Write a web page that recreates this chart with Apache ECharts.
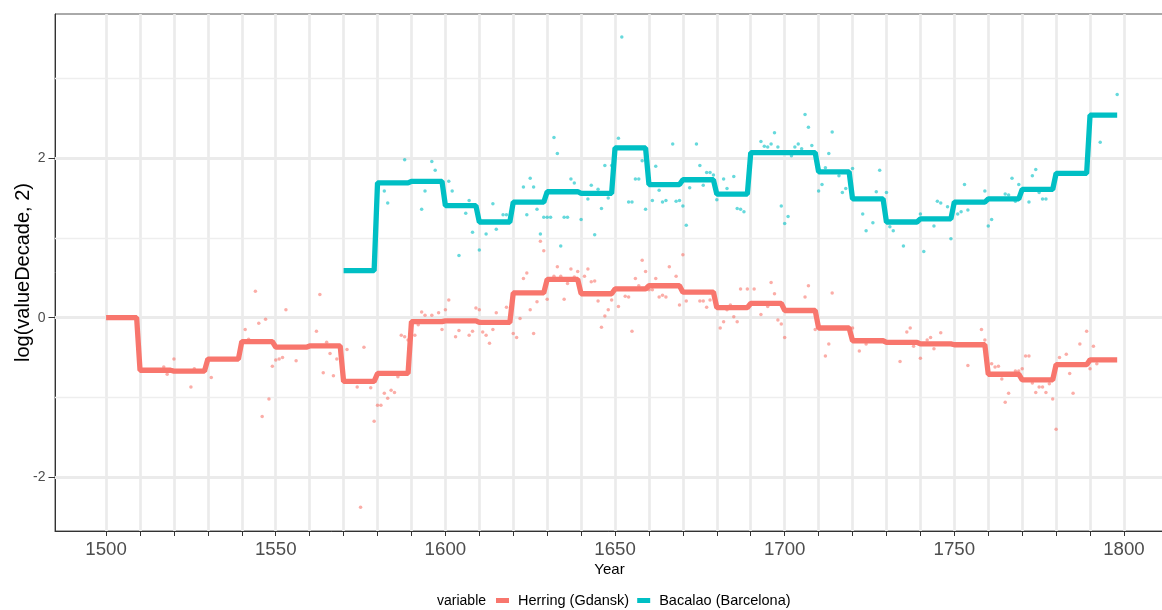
<!DOCTYPE html>
<html>
<head>
<meta charset="utf-8">
<title>log(valueDecade, 2) by Year</title>
<script src="https://cdn.jsdelivr.net/npm/echarts@6/dist/echarts.min.js"></script>
<style>
  html, body { margin: 0; padding: 0; background: #fff; }
  #chart { width: 1162px; height: 610px; }
</style>
</head>
<body>
<div id="chart"></div>
<script>
// decade step values (log2)
const herringDecades = [1500, 1510, 1520, 1530, 1540, 1550, 1560, 1570, 1580, 1590,
  1600, 1610, 1620, 1630, 1640, 1650, 1660, 1670, 1680, 1690,
  1700, 1710, 1720, 1730, 1740, 1750, 1760, 1770, 1780, 1790];
const herringDecadeVals = [0.00, -0.66, -0.67, -0.52, -0.30, -0.37, -0.355, -0.80, -0.70, -0.05,
  -0.04, -0.06, 0.31, 0.48, 0.30, 0.36, 0.40, 0.32, 0.125, 0.18,
  0.09, -0.13, -0.29, -0.31, -0.33, -0.34, -0.71, -0.78, -0.59, -0.53];

const bacalaoDecades = [1570, 1580, 1590,
  1600, 1610, 1620, 1630, 1640, 1650, 1660, 1670, 1680, 1690,
  1700, 1710, 1720, 1730, 1740, 1750, 1760, 1770, 1780, 1790];
const bacalaoDecadeVals = [0.59, 1.69, 1.71,
  1.405, 1.20, 1.45, 1.58, 1.56, 2.13, 1.67, 1.73, 1.55, 2.07,
  2.07, 1.83, 1.49, 1.20, 1.24, 1.45, 1.49, 1.61, 1.81, 2.54];

const lastYear = 1798;

// yearly observations [year, log2 value]
const herringPoints = [
  [1517, -0.62], [1518, -0.71], [1520, -0.52], [1525, -0.87], [1526, -0.64], [1531, -0.75],
  [1541, -0.15], [1542, -0.27], [1544, 0.33], [1545, -0.07], [1546, -1.24], [1547, -0.02],
  [1548, -1.02], [1549, -0.61], [1550, -0.53], [1551, -0.52], [1552, -0.50], [1553, 0.10],
  [1556, -0.54], [1562, -0.17], [1563, 0.29], [1564, -0.69], [1565, -0.31], [1566, -0.45],
  [1567, -0.73], [1568, -0.52], [1571, -0.40], [1574, -0.87], [1575, -2.38], [1576, -0.37],
  [1578, -0.88], [1579, -1.30], [1580, -1.10], [1581, -1.10], [1582, -0.95], [1583, -1.01],
  [1584, -0.91], [1585, -0.94], [1586, -0.74], [1587, -0.22], [1588, -0.24], [1589, -0.28],
  [1591, -0.22], [1592, -0.09], [1593, 0.07], [1594, 0.03], [1596, 0.03], [1598, 0.06],
  [1599, -0.15], [1600, 0.10], [1601, 0.22], [1603, -0.24], [1604, -0.16], [1607, -0.22],
  [1608, -0.17], [1609, 0.12], [1610, 0.10], [1611, -0.18], [1612, -0.22], [1613, -0.32],
  [1614, -0.15], [1615, 0.06], [1618, 0.13], [1620, -0.20], [1621, -0.25], [1622, -0.01],
  [1623, 0.49], [1624, 0.56], [1625, 0.10], [1626, -0.20], [1627, 0.20], [1628, 0.96],
  [1629, 0.84], [1630, 0.23], [1632, 0.52], [1633, 0.64], [1634, 0.52], [1635, 0.23],
  [1636, 0.43], [1637, 0.61], [1638, 0.51], [1639, 0.58], [1641, 0.52], [1642, 0.61],
  [1643, 0.45], [1644, 0.46], [1645, 0.21], [1646, -0.12], [1647, 0.02], [1648, 0.10],
  [1649, 0.22], [1651, 0.14], [1653, 0.27], [1654, 0.26], [1655, -0.17], [1656, 0.49],
  [1657, 0.40], [1658, 0.72], [1659, 0.58], [1660, 0.35], [1661, 0.35], [1662, 0.49],
  [1663, 0.26], [1664, 0.28], [1665, 0.26], [1666, 0.64], [1668, 0.52], [1669, 0.16],
  [1670, 0.79], [1671, 0.21], [1675, 0.21], [1676, 0.21], [1677, 0.13], [1678, 0.22],
  [1681, -0.13], [1682, -0.05], [1683, 0.10], [1684, 0.16], [1685, 0.01], [1686, -0.05],
  [1687, 0.36], [1689, 0.36], [1691, 0.36], [1693, 0.04], [1695, 0.14], [1696, 0.44],
  [1697, 0.30], [1698, -0.03], [1699, -0.08], [1700, -0.25], [1706, 0.26], [1707, 0.40],
  [1709, -0.15], [1712, -0.48], [1713, -0.33], [1714, 0.31], [1720, -0.13], [1722, -0.42],
  [1724, -0.33], [1734, -0.55], [1736, -0.18], [1737, -0.13], [1738, -0.36], [1740, -0.51],
  [1742, -0.28], [1743, -0.25], [1744, -0.39], [1746, -0.19], [1754, -0.60], [1758, -0.15],
  [1759, -0.28], [1761, -0.58], [1762, -0.62], [1763, -0.61], [1764, -0.77], [1765, -1.06],
  [1766, -0.95], [1768, -0.67], [1769, -0.67], [1770, -0.64], [1771, -0.48], [1772, -0.48],
  [1773, -0.82], [1774, -0.94], [1775, -0.87], [1776, -0.87], [1777, -0.94], [1778, -0.83],
  [1779, -1.02], [1780, -1.40], [1781, -0.50], [1783, -0.46], [1784, -0.70], [1785, -0.95],
  [1787, -0.33], [1789, -0.17], [1790, -0.64], [1791, -0.36], [1792, -0.58]
];

const bacalaoPoints = [
  [1582, 1.59], [1583, 1.44], [1588, 1.98], [1593, 1.36], [1594, 1.59], [1596, 1.96],
  [1597, 1.85], [1601, 1.71], [1602, 1.59], [1604, 0.78], [1606, 1.31], [1607, 1.47],
  [1608, 1.07], [1610, 0.85], [1612, 1.05], [1614, 1.43], [1615, 1.11], [1617, 1.29],
  [1618, 1.29], [1623, 1.64], [1624, 1.29], [1625, 1.75], [1626, 1.64], [1627, 1.36],
  [1628, 1.05], [1629, 1.26], [1630, 1.26], [1631, 1.26], [1632, 2.26], [1633, 2.06],
  [1634, 0.90], [1635, 1.26], [1636, 1.26], [1637, 1.74], [1638, 1.69], [1640, 1.23],
  [1642, 1.49], [1643, 1.66], [1644, 1.04], [1645, 1.61], [1646, 1.37], [1647, 1.91],
  [1648, 1.50], [1649, 1.91], [1651, 2.25], [1652, 3.52], [1654, 1.45], [1655, 1.45],
  [1656, 1.74], [1657, 1.74], [1658, 1.97], [1659, 1.36], [1661, 1.47], [1662, 1.90],
  [1663, 1.60], [1664, 1.45], [1665, 1.47], [1667, 2.18], [1668, 1.46], [1669, 1.47],
  [1670, 1.40], [1671, 1.16], [1672, 1.63], [1674, 2.18], [1675, 1.91], [1676, 1.66],
  [1677, 1.82], [1678, 1.82], [1679, 1.79], [1680, 1.48], [1682, 1.74], [1683, 1.62],
  [1685, 1.77], [1686, 1.37], [1687, 1.36], [1688, 1.33], [1693, 2.21], [1694, 2.15],
  [1695, 2.14], [1696, 2.18], [1697, 2.32], [1698, 2.14], [1699, 1.40], [1700, 1.18],
  [1701, 1.27], [1702, 2.03], [1703, 2.14], [1704, 2.18], [1705, 2.12], [1706, 2.55],
  [1707, 2.39], [1708, 2.16], [1710, 1.59], [1711, 1.67], [1712, 1.88], [1713, 2.06],
  [1714, 2.33], [1716, 1.78], [1717, 1.57], [1718, 1.62], [1720, 1.87], [1723, 1.30],
  [1724, 1.09], [1726, 1.19], [1727, 1.58], [1728, 1.85], [1730, 1.57], [1731, 1.14],
  [1732, 1.09], [1735, 0.90], [1740, 1.30], [1741, 0.83], [1744, 1.15], [1745, 1.46],
  [1746, 1.44], [1748, 1.39], [1749, 0.99], [1751, 1.30], [1752, 1.33], [1753, 1.67],
  [1754, 1.35], [1759, 1.59], [1760, 1.15], [1761, 1.23], [1765, 1.55], [1766, 1.54],
  [1767, 1.75], [1768, 1.46], [1769, 1.67], [1772, 1.45], [1773, 1.78], [1774, 1.86],
  [1775, 1.57], [1776, 1.49], [1777, 1.49], [1793, 2.20], [1798, 2.80]
];

// axis breaks
const xTickYears = [1500, 1510, 1520, 1530, 1540, 1550, 1560, 1570, 1580, 1590, 1600,
  1610, 1620, 1630, 1640, 1650, 1660, 1670, 1680, 1690, 1700,
  1710, 1720, 1730, 1740, 1750, 1760, 1770, 1780, 1790, 1800];
const xLabelYears = [1500, 1550, 1600, 1650, 1700, 1750, 1800];
const yMajor = [-2, 0, 2];
const yMinor = [-1, 1, 3];

const seriesNames = ["Herring (Gdansk)", "Bacalao (Barcelona)"];
const colors = ["#F8766D", "#00BFC4"];
const fontFamily = "'Liberation Sans', Arial, sans-serif";

function stepLine(decades, vals, endYear) {
  let out = [];
  for (let i = 0; i < decades.length; i++) {
    out.push([decades[i], vals[i]]);
    out.push([Math.min(decades[i] + 9, endYear), vals[i]]);
  }
  return out;
}

/** gridlines as markLines, so they can start at 1500 */
function gridLines() {
  let data = [];
  xTickYears.forEach(function(v) {
    data.push({ xAxis: v, lineStyle: { color: "#EBEBEB", width: 2.7, type: "solid" } });
  });
  yMajor.forEach(function(v) {
    data.push({ yAxis: v, lineStyle: { color: "#EBEBEB", width: 2.8, type: "solid" } });
  });
  yMinor.forEach(function(v) {
    data.push({ yAxis: v, lineStyle: { color: "#EEEEEE", width: 1.3, type: "solid" } });
  });
  return data;
}

var myChart = echarts.init(document.getElementById("chart"), null, { renderer: "canvas" });

let option = {
  animation: false,
  backgroundColor: "#ffffff",
  textStyle: { fontFamily: fontFamily },
  grid: {
    left: 55,
    top: 14,
    right: -2,
    bottom: 79,
    outerBoundsMode: "none",
    show: true,
    borderColor: "#555555",
    borderWidth: 1
  },
  legend: {
    data: seriesNames,
    left: 496,
    top: 593,
    padding: 0,
    icon: "rect",
    itemWidth: 13,
    itemHeight: 5,
    itemGap: 8,
    textStyle: { fontSize: 14.5, color: "#000", fontFamily: fontFamily, padding: [0, 0, 0, 4] }
  },
  graphic: [
    {
      type: "text",
      left: 437,
      top: 594,
      style: { text: "variable", fontSize: 14, fill: "#000", fontFamily: fontFamily }
    }
  ],
  xAxis: {
    type: "value",
    min: 1484.94,
    max: 1811.8,
    name: "Year",
    nameLocation: "middle",
    nameGap: 31,
    nameMoveOverlap: false,
    nameTextStyle: { fontSize: 15, color: "#000", fontFamily: fontFamily },
    axisLine: { show: true, onZero: false, lineStyle: { color: "#333333", width: 1 } },
    axisTick: {
      show: true,
      length: 5,
      customValues: xTickYears,
      lineStyle: { color: "#333333" }
    },
    axisLabel: {
      customValues: xLabelYears,
      formatter: function(v) { return String(v); },
      fontSize: 18.7,
      color: "#4D4D4D",
      margin: 9,
      fontFamily: fontFamily
    },
    splitLine: { show: false }
  },
  yAxis: {
    type: "value",
    min: -2.677,
    max: 3.81,
    name: "log(valueDecade, 2)",
    nameLocation: "middle",
    nameGap: 22,
    nameMoveOverlap: false,
    nameTextStyle: { fontSize: 20, color: "#000", fontFamily: fontFamily },
    axisLine: { show: true, onZero: false, lineStyle: { color: "#333333", width: 1 } },
    axisTick: {
      show: true,
      length: 6.5,
      customValues: yMajor,
      lineStyle: { color: "#333333" }
    },
    axisLabel: {
      customValues: yMajor,
      formatter: function(v) { return String(v); },
      fontSize: 14,
      color: "#4D4D4D",
      margin: 9.5,
      fontFamily: fontFamily
    },
    splitLine: { show: false }
  },
  series: [
    {
      name: seriesNames[0],
      type: "line",
      data: stepLine(herringDecades, herringDecadeVals, lastYear),
      showSymbol: false,
      symbol: "none",
      color: colors[0],
      lineStyle: { width: 5.3, color: colors[0] },
      z: 4
    },
    {
      name: seriesNames[1],
      type: "line",
      data: stepLine(bacalaoDecades, bacalaoDecadeVals, lastYear),
      showSymbol: false,
      symbol: "none",
      color: colors[1],
      lineStyle: { width: 5.3, color: colors[1] },
      z: 4
    },
    {
      name: seriesNames[0],
      type: "scatter",
      data: herringPoints,
      symbolSize: 3.5,
      itemStyle: { color: colors[0], opacity: 0.6 },
      z: 3
    },
    {
      name: seriesNames[1],
      type: "scatter",
      data: bacalaoPoints,
      symbolSize: 3.5,
      itemStyle: { color: colors[1], opacity: 0.6 },
      z: 3
    },
    {
      name: "grid",
      type: "scatter",
      data: [],
      z: 1,
      silent: true,
      markLine: {
        z: 1,
        silent: true,
        symbol: "none",
        label: { show: false },
        animation: false,
        data: gridLines()
      }
    }
  ]
};
myChart.setOption(option);
</script>
</body>
</html>
